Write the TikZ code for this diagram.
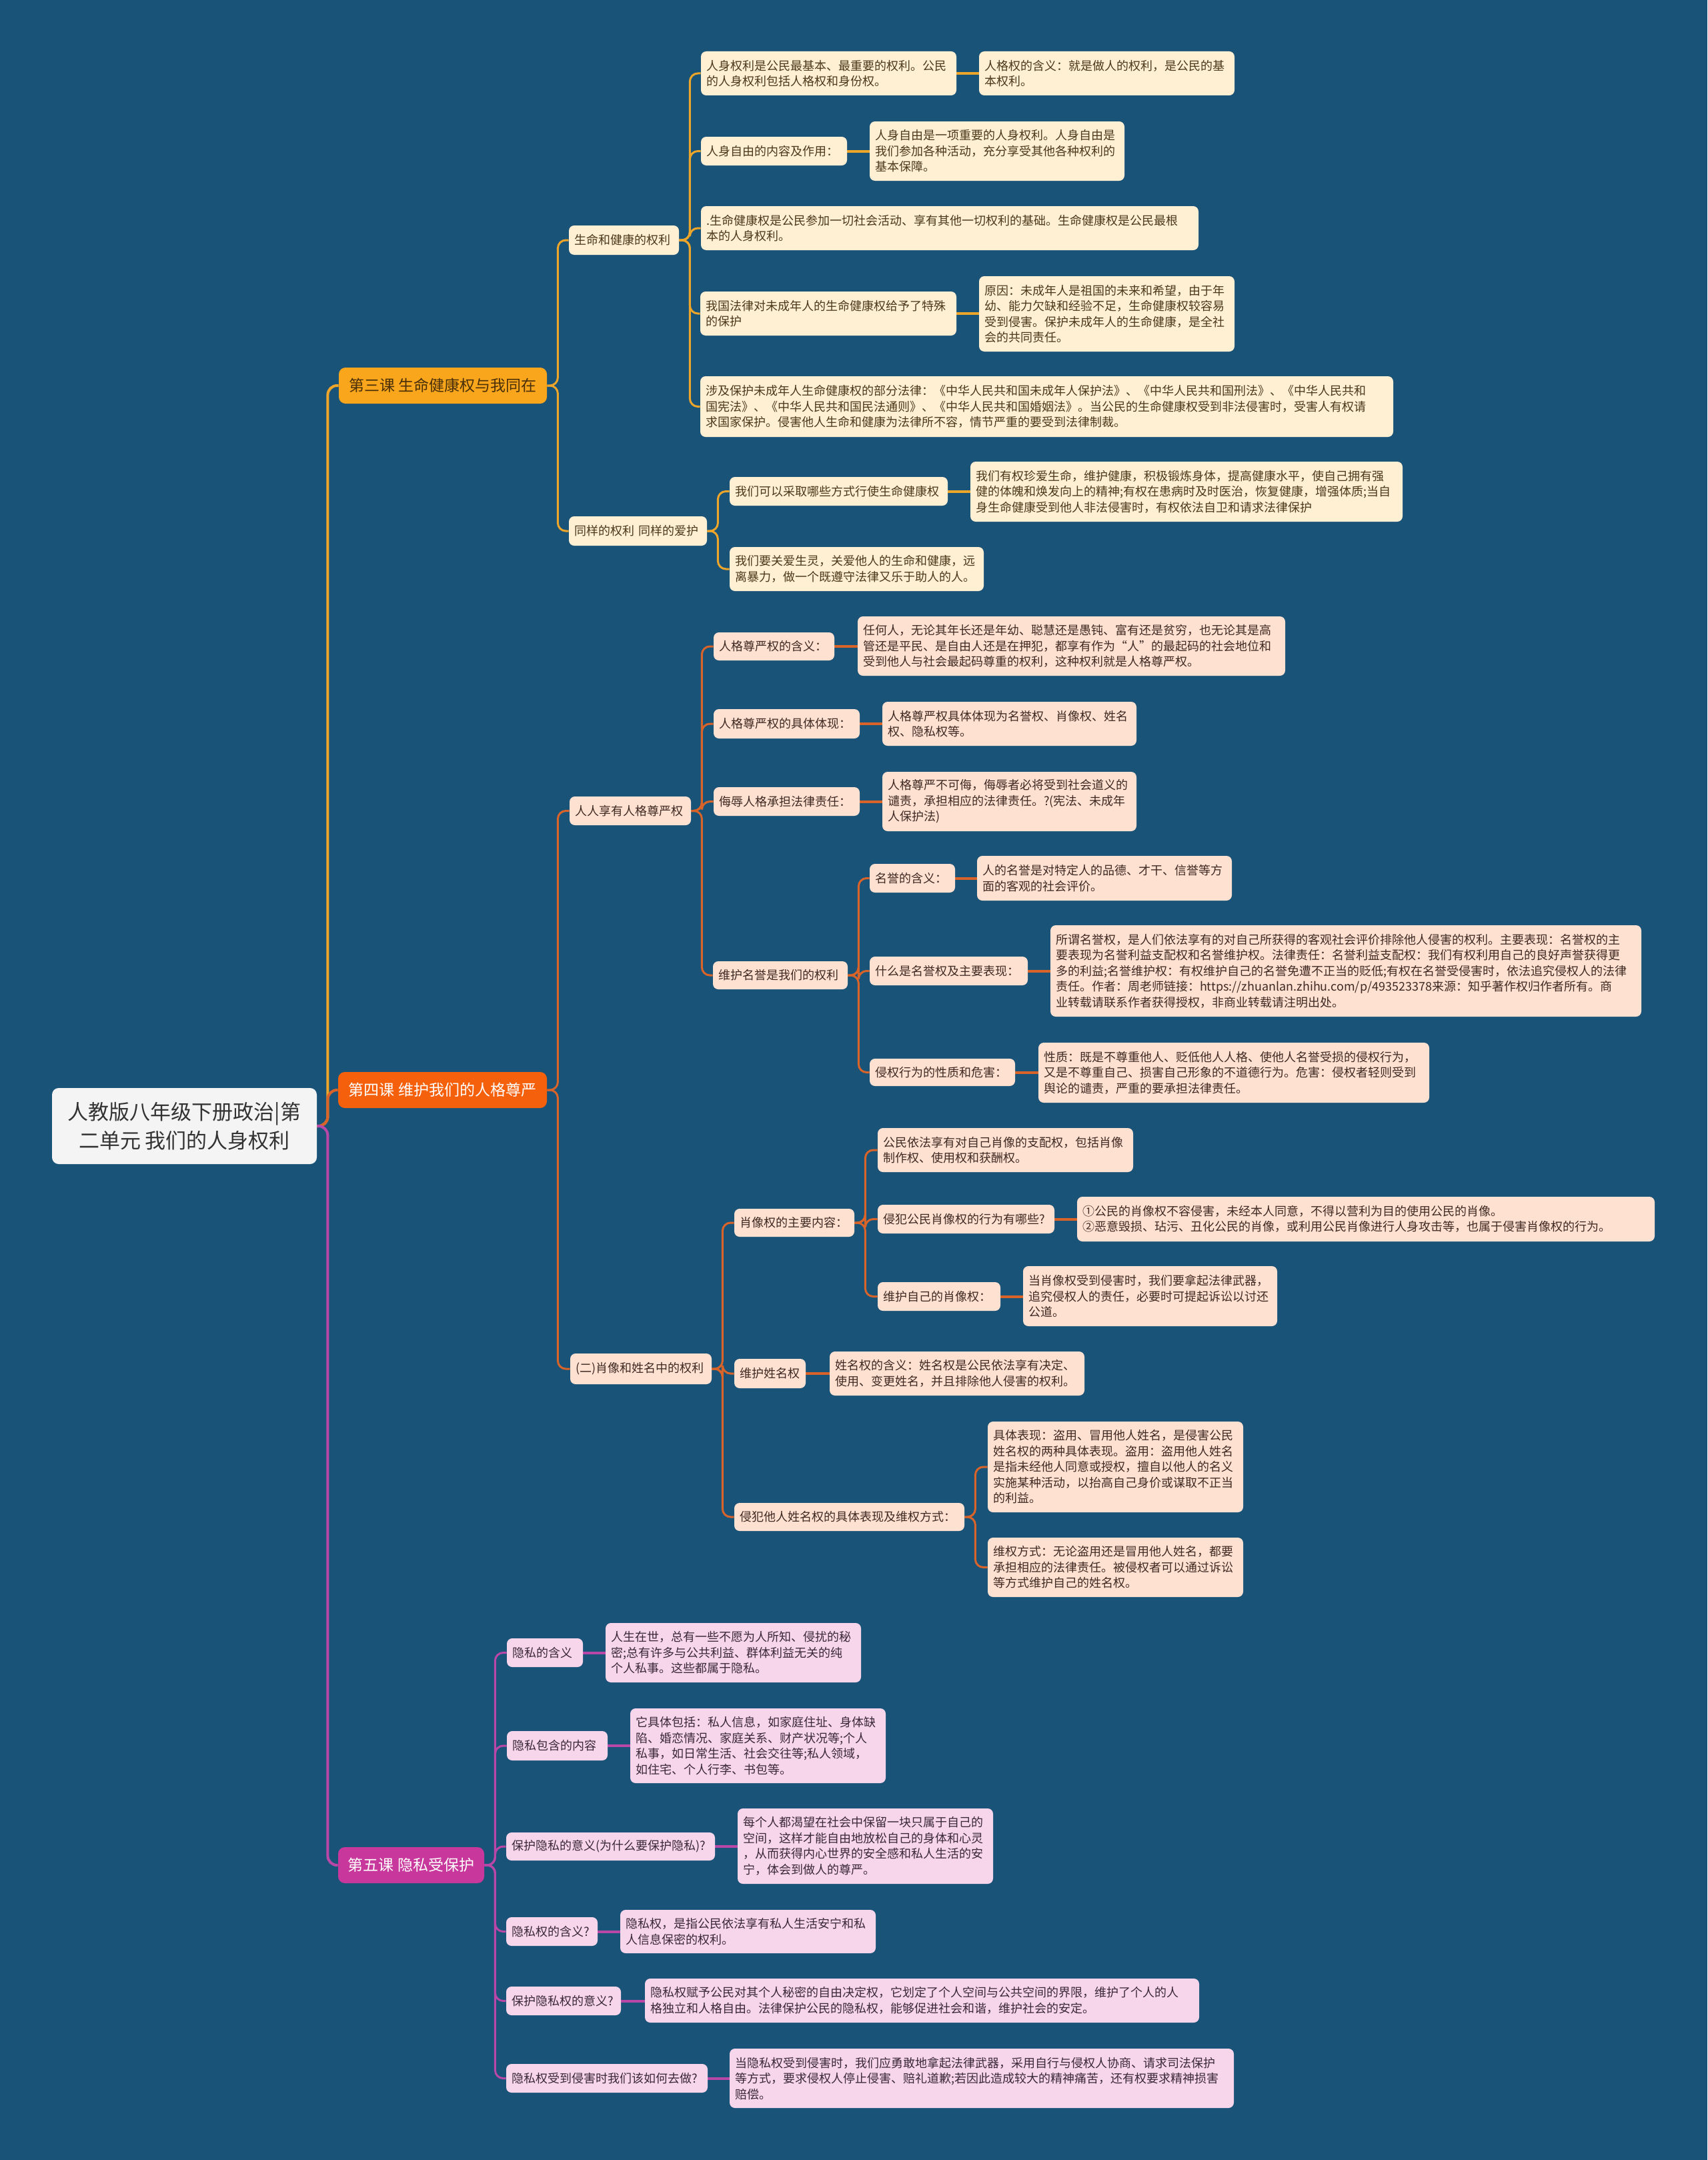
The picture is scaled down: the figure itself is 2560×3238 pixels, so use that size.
\documentclass[tikz,border=0pt]{standalone}
\usepackage{fontspec}
\setmainfont{Noto Sans CJK SC}
\usetikzlibrary{backgrounds}
\definecolor{bgc}{HTML}{1A5378}
\definecolor{rootfill}{HTML}{F4F4F4}
\definecolor{roottext}{HTML}{333333}
\definecolor{l3fill}{HTML}{F9A61C}
\definecolor{l4fill}{HTML}{F5600D}
\definecolor{l5fill}{HTML}{C8379C}
\definecolor{l3line}{HTML}{EDA52A}
\definecolor{l4line}{HTML}{D8642A}
\definecolor{l5line}{HTML}{B947A8}
\definecolor{f3}{HTML}{FFF0D4}
\definecolor{f4}{HTML}{FFE1D2}
\definecolor{f5}{HTML}{F7D6EB}
\definecolor{t3}{HTML}{4A3A1A}
\definecolor{t4}{HTML}{3E2A22}
\definecolor{t5}{HTML}{3A2838}
\definecolor{l3text}{HTML}{4A3008}
\tikzset{
  box/.style={rounded corners=4pt, inner xsep=4pt, inner ysep=2pt, align=left,
    font=\fontsize{9}{11.75}\selectfont},
  b3/.style={box, fill=f3, text=t3},
  b4/.style={box, fill=f4, text=t4},
  b5/.style={box, fill=f5, text=t5},
  lone/.style={rounded corners=5pt, align=center, inner sep=2pt,
    font=\fontsize{11.5}{14}\selectfont},
  lk3/.style={draw=l3line, line width=1.5pt, rounded corners=6pt},
  lk4/.style={draw=l4line, line width=1.5pt, rounded corners=6pt},
  lk5/.style={draw=l5line, line width=1.5pt, rounded corners=6pt},
  lf3/.style={draw=l3line, line width=2pt},
  lf4/.style={draw=l4line, line width=2pt},
  lf5/.style={draw=l5line, line width=2pt},
  tr3/.style={draw=l3line, line width=2pt, rounded corners=7pt},
  tr4/.style={draw=l4line, line width=2pt, rounded corners=7pt},
  tr5/.style={draw=l5line, line width=2pt, rounded corners=7pt},
}
\newcommand{\mmnode}[7]{%
  \pgfmathsetmacro{\mmcx}{(#3+#5)/2}%
  \pgfmathsetmacro{\mmcy}{(#4+#6)/2}%
  \pgfmathsetmacro{\mmw}{(#5-#3)*0.5}%
  \pgfmathsetmacro{\mmh}{(#6-#4)*0.5}%
  \pgfmathsetmacro{\mmtw}{(#5-#3)*0.5-8}%
  \node[#1, minimum width=\mmw pt, minimum height=\mmh pt, text width=\mmtw pt] (#2) at (\mmcx,\mmcy) {#7};%
}
\newcommand{\mmlink}[3]{\draw[#1] (#2.east) -- ++(16,0) |- (#3.west);}
\newcommand{\mmleaf}[3]{\draw[#1] (#2.east) -- (#2.east -| #3.west);}
\begin{document}
\begin{tikzpicture}[x=0.5pt,y=-0.5pt]
\useasboundingbox (0,0) rectangle (2560,3238);
% root and lessons
\node[fill=rootfill, rounded corners=5pt, text=roottext, align=center, inner sep=2pt,
  font=\fontsize{15.5}{21.5}\selectfont, minimum width=198.5pt, minimum height=57pt] (root) at (276.5,1688)
  {人教版八年级下册政治|第\\二单元 我们的人身权利};
\node[lone, fill=l3fill, text=l3text, minimum width=156pt, minimum height=27pt] (L3) at (664,578) {第三课 生命健康权与我同在};
\node[lone, fill=l4fill, text=white, minimum width=156.5pt, minimum height=27pt] (L4) at (663.5,1634) {第四课 维护我们的人格尊严};
\node[lone, fill=l5fill, text=white, minimum width=109.5pt, minimum height=27pt] (L5) at (616.5,2796) {第五课 隐私受保护};
% lesson 3
\mmnode{b3}{A1}{853}{338}{1018}{382}{生命和健康的权利}
\mmnode{b3}{A2}{853}{774}{1060}{818}{同样的权利 同样的爱护}
\mmnode{b3}{B1}{1051}{77}{1434}{143}{人身权利是公民最基本、最重要的权利。公民\\的人身权利包括人格权和身份权。}
\mmnode{b3}{B1c}{1468}{77}{1851}{143}{人格权的含义：就是做人的权利，是公民的基\\本权利。}
\mmnode{b3}{B2}{1051}{205}{1270}{248}{人身自由的内容及作用：}
\mmnode{b3}{B2c}{1304}{182}{1686}{271}{人身自由是一项重要的人身权利。人身自由是\\我们参加各种活动，充分享受其他各种权利的\\基本保障。}
\mmnode{b3}{B3}{1051}{309}{1797}{375}{.生命健康权是公民参加一切社会活动、享有其他一切权利的基础。生命健康权是公民最根\\本的人身权利。}
\mmnode{b3}{B4}{1050}{437}{1434}{503}{我国法律对未成年人的生命健康权给予了特殊\\的保护}
\mmnode{b3}{B4c}{1468}{414}{1851}{527}{原因：未成年人是祖国的未来和希望，由于年\\幼、能力欠缺和经验不足，生命健康权较容易\\受到侵害。保护未成年人的生命健康，是全社\\会的共同责任。}
\mmnode{b3}{B5}{1050}{564}{2089}{655}{涉及保护未成年人生命健康权的部分法律：《中华人民共和国未成年人保护法》、《中华人民共和国刑法》、《中华人民共和\\国宪法》、《中华人民共和国民法通则》、《中华人民共和国婚姻法》。当公民的生命健康权受到非法侵害时，受害人有权请\\求国家保护。侵害他人生命和健康为法律所不容，情节严重的要受到法律制裁。}
\mmnode{b3}{C1}{1094}{715}{1421}{758}{我们可以采取哪些方式行使生命健康权}
\mmnode{b3}{C1c}{1455}{692}{2103}{782}{我们有权珍爱生命，维护健康，积极锻炼身体，提高健康水平，使自己拥有强\\健的体魄和焕发向上的精神;有权在患病时及时医治，恢复健康，增强体质;当自\\身生命健康受到他人非法侵害时，有权依法自卫和请求法律保护}
\mmnode{b3}{C2}{1094}{820}{1475}{886}{我们要关爱生灵，关爱他人的生命和健康，远\\离暴力，做一个既遵守法律又乐于助人的人。}
% lesson 4
\mmnode{b4}{D1}{854}{1194}{1036}{1237}{人人享有人格尊严权}
\mmnode{b4}{D2}{855}{2029}{1067}{2075}{(二)肖像和姓名中的权利}
\mmnode{b4}{E1}{1070}{948}{1251}{990}{人格尊严权的含义：}
\mmnode{b4}{E1c}{1286}{924}{1927}{1013}{任何人，无论其年长还是年幼、聪慧还是愚钝、富有还是贫穷，也无论其是高\\管还是平民、是自由人还是在押犯，都享有作为“人”的最起码的社会地位和\\受到他人与社会最起码尊重的权利，这种权利就是人格尊严权。}
\mmnode{b4}{E2}{1070}{1063}{1289}{1107}{人格尊严权的具体体现：}
\mmnode{b4}{E2c}{1323}{1052}{1704}{1118}{人格尊严权具体体现为名誉权、肖像权、姓名\\权、隐私权等。}
\mmnode{b4}{E3}{1070}{1180}{1289}{1223}{侮辱人格承担法律责任：}
\mmnode{b4}{E3c}{1323}{1157}{1704}{1246}{人格尊严不可侮，侮辱者必将受到社会道义的\\谴责，承担相应的法律责任。?(宪法、未成年\\人保护法)}
\mmnode{b4}{E4}{1069}{1441}{1271}{1483}{维护名誉是我们的权利}
\mmnode{b4}{F1}{1304}{1295}{1432}{1338}{名誉的含义：}
\mmnode{b4}{F1c}{1465}{1283}{1847}{1350}{人的名誉是对特定人的品德、才干、信誉等方\\面的客观的社会评价。}
\mmnode{b4}{F2}{1304}{1434}{1541}{1477}{什么是名誉权及主要表现：}
\mmnode{b4}{F2c}{1575}{1387}{2461}{1524}{所谓名誉权，是人们依法享有的对自己所获得的客观社会评价排除他人侵害的权利。主要表现：名誉权的主\\要表现为名誉利益支配权和名誉维护权。法律责任：名誉利益支配权：我们有权利用自己的良好声誉获得更\\多的利益;名誉维护权：有权维护自己的名誉免遭不正当的贬低;有权在名誉受侵害时，依法追究侵权人的法律\\责任。作者：周老师链接：https://zhuanlan.zhihu.com/p/493523378来源：知乎著作权归作者所有。商\\业转载请联系作者获得授权，非商业转载请注明出处。}
\mmnode{b4}{F3}{1304}{1587}{1522}{1628}{侵权行为的性质和危害：}
\mmnode{b4}{F3c}{1557}{1563}{2143}{1653}{性质：既是不尊重他人、贬低他人人格、使他人名誉受损的侵权行为，\\又是不尊重自己、损害自己形象的不道德行为。危害：侵权者轻则受到\\舆论的谴责，严重的要承担法律责任。}
\mmnode{b4}{G1}{1101}{1812}{1281}{1854}{肖像权的主要内容：}
\mmnode{b4}{H1}{1316}{1691}{1699}{1757}{公民依法享有对自己肖像的支配权，包括肖像\\制作权、使用权和获酬权。}
\mmnode{b4}{H2}{1316}{1806}{1581}{1849}{侵犯公民肖像权的行为有哪些?}
\mmnode{b4}{H2c}{1615}{1794}{2481}{1861}{①公民的肖像权不容侵害，未经本人同意，不得以营利为目的使用公民的肖像。\\②恶意毁损、玷污、丑化公民的肖像，或利用公民肖像进行人身攻击等，也属于侵害肖像权的行为。}
\mmnode{b4}{H3}{1316}{1922}{1500}{1965}{维护自己的肖像权：}
\mmnode{b4}{H3c}{1534}{1898}{1915}{1988}{当肖像权受到侵害时，我们要拿起法律武器，\\追究侵权人的责任，必要时可提起诉讼以讨还\\公道。}
\mmnode{b4}{G2}{1101}{2037}{1208}{2081}{维护姓名权}
\mmnode{b4}{G2c}{1244}{2026}{1626}{2092}{姓名权的含义：姓名权是公民依法享有决定、\\使用、变更姓名，并且排除他人侵害的权利。}
\mmnode{b4}{G3}{1101}{2253}{1446}{2295}{侵犯他人姓名权的具体表现及维权方式：}
\mmnode{b4}{I1}{1481}{2131}{1864}{2267}{具体表现：盗用、冒用他人姓名，是侵害公民\\姓名权的两种具体表现。盗用：盗用他人姓名\\是指未经他人同意或授权，擅自以他人的名义\\实施某种活动，以抬高自己身价或谋取不正当\\的利益。}
\mmnode{b4}{I2}{1481}{2305}{1864}{2394}{维权方式：无论盗用还是冒用他人姓名，都要\\承担相应的法律责任。被侵权者可以通过诉讼\\等方式维护自己的姓名权。}
% lesson 5
\mmnode{b5}{J1}{760}{2456}{874}{2499}{隐私的含义}
\mmnode{b5}{J1c}{908}{2433}{1291}{2522}{人生在世，总有一些不愿为人所知、侵扰的秘\\密;总有许多与公共利益、群体利益无关的纯\\个人私事。这些都属于隐私。}
\mmnode{b5}{J2}{760}{2595}{911}{2639}{隐私包含的内容}
\mmnode{b5}{J2c}{945}{2561}{1328}{2673}{它具体包括：私人信息，如家庭住址、身体缺\\陷、婚恋情况、家庭关系、财产状况等;个人\\私事，如日常生活、社会交往等;私人领域，\\如住宅、个人行李、书包等。}
\mmnode{b5}{J3}{759}{2747}{1072}{2789}{保护隐私的意义(为什么要保护隐私)?}
\mmnode{b5}{J3c}{1106}{2711}{1489}{2824}{每个人都渴望在社会中保留一块只属于自己的\\空间，这样才能自由地放松自己的身体和心灵\\，从而获得内心世界的安全感和私人生活的安\\宁，体会到做人的尊严。}
\mmnode{b5}{J4}{759}{2874}{896}{2917}{隐私权的含义?}
\mmnode{b5}{J4c}{930}{2863}{1313}{2928}{隐私权，是指公民依法享有私人生活安宁和私\\人信息保密的权利。}
\mmnode{b5}{J5}{759}{2978}{931}{3021}{保护隐私权的意义?}
\mmnode{b5}{J5c}{967}{2966}{1798}{3032}{隐私权赋予公民对其个人秘密的自由决定权，它划定了个人空间与公共空间的界限，维护了个人的人\\格独立和人格自由。法律保护公民的隐私权，能够促进社会和谐，维护社会的安定。}
\mmnode{b5}{J6}{759}{3094}{1061}{3137}{隐私权受到侵害时我们该如何去做?}
\mmnode{b5}{J6c}{1094}{3071}{1850}{3160}{当隐私权受到侵害时，我们应勇敢地拿起法律武器，采用自行与侵权人协商、请求司法保护\\等方式，要求侵权人停止侵害、赔礼道歉;若因此造成较大的精神痛苦，还有权要求精神损害\\赔偿。}
\begin{pgfonlayer}{background}
\fill[bgc] (0,0) rectangle (2560,3238);
% trunk
\mmlink{tr3}{root}{L3}
\mmlink{tr4}{root}{L4}
\mmlink{tr5}{root}{L5}
% lesson 3 links
\mmlink{lk3}{L3}{A1}
\mmlink{lk3}{L3}{A2}
\mmlink{lk3}{A1}{B1}
\mmlink{lk3}{A1}{B2}
\mmlink{lk3}{A1}{B3}
\mmlink{lk3}{A1}{B4}
\mmlink{lk3}{A1}{B5}
\mmleaf{lf3}{B1}{B1c}
\mmleaf{lf3}{B2}{B2c}
\mmleaf{lf3}{B4}{B4c}
\mmlink{lk3}{A2}{C1}
\mmlink{lk3}{A2}{C2}
\mmleaf{lf3}{C1}{C1c}
% lesson 4 links
\mmlink{lk4}{L4}{D1}
\mmlink{lk4}{L4}{D2}
\mmlink{lk4}{D1}{E1}
\mmlink{lk4}{D1}{E2}
\mmlink{lk4}{D1}{E3}
\mmlink{lk4}{D1}{E4}
\mmleaf{lf4}{E1}{E1c}
\mmleaf{lf4}{E2}{E2c}
\mmleaf{lf4}{E3}{E3c}
\mmlink{lk4}{E4}{F1}
\mmlink{lk4}{E4}{F2}
\mmlink{lk4}{E4}{F3}
\mmleaf{lf4}{F1}{F1c}
\mmleaf{lf4}{F2}{F2c}
\mmleaf{lf4}{F3}{F3c}
\mmlink{lk4}{D2}{G1}
\mmlink{lk4}{D2}{G2}
\mmlink{lk4}{D2}{G3}
\mmlink{lk4}{G1}{H1}
\mmlink{lk4}{G1}{H2}
\mmlink{lk4}{G1}{H3}
\mmleaf{lf4}{H2}{H2c}
\mmleaf{lf4}{H3}{H3c}
\mmleaf{lf4}{G2}{G2c}
\mmlink{lk4}{G3}{I1}
\mmlink{lk4}{G3}{I2}
% lesson 5 links
\mmlink{lk5}{L5}{J1}
\mmlink{lk5}{L5}{J2}
\mmlink{lk5}{L5}{J3}
\mmlink{lk5}{L5}{J4}
\mmlink{lk5}{L5}{J5}
\mmlink{lk5}{L5}{J6}
\mmleaf{lf5}{J1}{J1c}
\mmleaf{lf5}{J2}{J2c}
\mmleaf{lf5}{J3}{J3c}
\mmleaf{lf5}{J4}{J4c}
\mmleaf{lf5}{J5}{J5c}
\mmleaf{lf5}{J6}{J6c}
\end{pgfonlayer}
\end{tikzpicture}
\end{document}
